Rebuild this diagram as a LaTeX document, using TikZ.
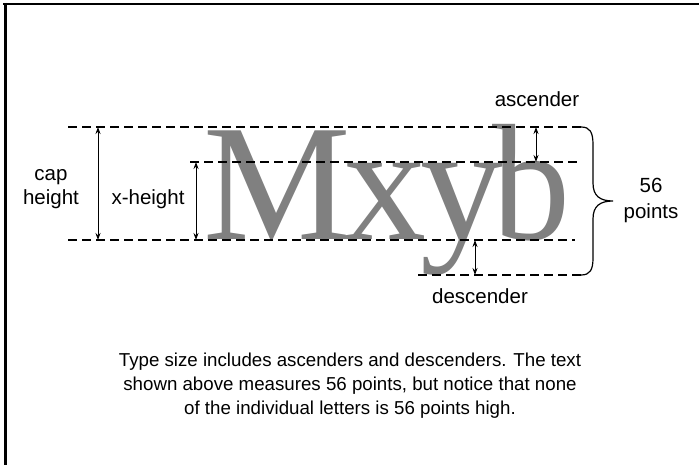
\documentclass[tikz,border=0pt]{standalone}
\usepackage{fontspec}
\setmainfont{Liberation Sans}
\newfontfamily\glyphfont{Liberation Serif}
\usetikzlibrary{arrows.meta}
\begin{document}
\begin{tikzpicture}[x=1pt,y=-1pt,
  guide/.style={line width=1.5pt,dash pattern=on 9pt off 5pt},
  dim/.style={line width=0.9pt,{Stealth[length=7pt,width=5pt]}-{Stealth[length=7pt,width=5pt]}},
  lbl/.style={font=\fontsize{20.5}{24}\selectfont,inner sep=0pt,anchor=base},
  big/.style={font=\glyphfont\fontsize{166}{166}\selectfont,text=black!50,inner sep=0pt,anchor=base west}]
\useasboundingbox (0,0) rectangle (699,465);
% frame (top and left only)
\draw[line width=2pt] (3,4) -- (699,4);
\draw[line width=3pt] (5.5,3) -- (5.5,465);
% big letters
\node[big] (gM) at (203,240) {M};
\node[big] (gx) at (343,240) {x};
\node[big] (gy) at (420,240) {y};
\node[big,xscale=0.94] (gb) at (492,240) {b};
% guide lines
\coordinate (capL) at (68,127);
\coordinate (capR) at (581,127);
\coordinate (xL) at (190,162);
\coordinate (xR) at (577,162);
\coordinate (baseL) at (68,240);
\coordinate (baseR) at (575,240);
\coordinate (descL) at (418,275);
\coordinate (descR) at (581,275);
\draw[guide] (capL) -- (capR);
\draw[guide] (xL) -- (xR);
\draw[guide] (baseL) -- (baseR);
\draw[guide] (descL) -- (descR);
% brace
\coordinate (tip) at (613,201);
\draw[line width=1.2pt] (capR) .. controls (590,127) and (593,132) .. (593,145)
  -- (593,183) .. controls (593,196) and (600,201) .. (tip)
  .. controls (600,201) and (593,206) .. (593,219)
  -- (593,258) .. controls (593,270) and (590,275) .. (descR);
% dimension arrows
\coordinate (a1) at (98,127); \coordinate (a2) at (98,240);
\coordinate (b1) at (196,162); \coordinate (b2) at (196,240);
\coordinate (c1) at (536,127); \coordinate (c2) at (536,162);
\coordinate (d1) at (475,240); \coordinate (d2) at (475,275);
\draw[dim] (a1) -- (a2);
\draw[dim] (b1) -- (b2);
\draw[dim] (c1) -- (c2);
\draw[dim] (d1) -- (d2);
% labels
\node[lbl] (cap) at (51,181) {cap};
\node[lbl] (height) at (51,205) {height};
\node[lbl] (xh) at (148,205) {x-height};
\node[lbl] (asc) at (537,107) {ascender};
\node[lbl] (desc) at (480,303) {descender};
\node[lbl] (n56) at (651,193) {56};
\node[lbl] (pts) at (651,219) {points};
% caption
\node[font=\fontsize{18.7}{24}\selectfont,align=center,inner sep=0pt,anchor=base] (cap1) at (350,414)
  {Type size includes ascenders and descenders. The text\\
   shown above measures 56 points, but notice that none\\
   of the individual letters is 56 points high.};
\end{tikzpicture}
\end{document}
